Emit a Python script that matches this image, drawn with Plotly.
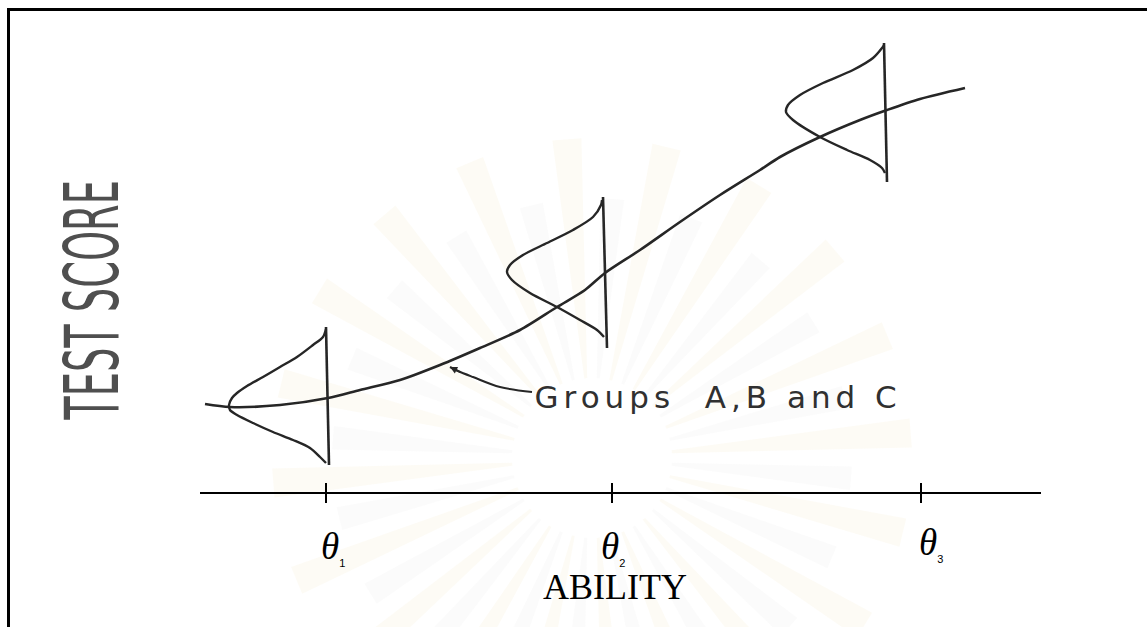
import math
import plotly.graph_objects as go

# Ability / test-score frame (1 unit = 1 px on the page, origin bottom-left)
AXIS_SCORE = 134
AXIS_START, AXIS_END = 200, 1041
THETA_POS = [326, 612, 921]
THETA_NAMES = ["1", "2", "3"]

# Regression of test score on ability
curve_ability = [205, 230, 280, 328, 360, 400, 440, 480, 520, 557, 585, 605,
                 640, 680, 720, 760, 780, 820, 860, 887, 920, 965]
curve_score = [223, 220, 222, 229, 237, 247, 262, 279, 297, 320, 337, 354,
               377, 405, 432, 457, 470, 490, 507, 517, 528, 539]

# Score distributions (groups A, B, C) at each ability level
dist1_ability = [326, 323, 313, 297, 280, 263, 247, 237, 232, 229, 230, 237, 253, 273, 293, 310, 320, 326]
dist1_score = [298, 290, 282, 270, 260, 250, 241, 234, 229, 222, 217, 212, 204, 195, 187, 179, 170, 164]
dist2_ability = [602, 601, 593, 573, 547, 523, 510, 507, 512, 530, 557, 580, 597, 604]
dist2_score = [427, 422, 410, 397, 384, 372, 362, 355, 347, 334, 320, 307, 297, 290]
dist3_ability = [884, 882, 873, 853, 823, 800, 788, 786, 793, 820, 847, 870, 882, 885]
dist3_score = [582, 579, 569, 557, 544, 532, 522, 515, 507, 490, 477, 467, 459, 454]

# Vertical baselines of the three distributions: (ability top, score top, ability bottom, score bottom)
dist_bases = [(326, 300, 329, 162), (603, 430, 607, 279), (884, 584, 887, 445)]

# Leader line to the curve label
leader_ability = [532, 500, 473, 458, 450]
leader_score = [235, 240, 250, 256, 260]

INK = "#262626"
W, H = 1147, 627

fig = go.Figure()

# faint emblem rays behind the drawing
shapes = []
cx, cy = 592, 169
n_rays = 40
for i in range(n_rays):
    a0 = 2 * math.pi * (i + 0.5) / n_rays
    half = math.radians(2.6)
    r_in = 80
    r_out = 320 if i % 2 == 0 else 260
    pts = [
        (cx + r_in * math.cos(a0 - half * 0.4), cy + r_in * math.sin(a0 - half * 0.4)),
        (cx + r_out * math.cos(a0 - half), cy + r_out * math.sin(a0 - half)),
        (cx + r_out * math.cos(a0 + half), cy + r_out * math.sin(a0 + half)),
        (cx + r_in * math.cos(a0 + half * 0.4), cy + r_in * math.sin(a0 + half * 0.4)),
    ]
    path = "M " + " L ".join(f"{px:.1f},{py:.1f}" for px, py in pts) + " Z"
    fill = "rgba(240,222,160,0.11)" if i % 2 == 0 else "rgba(200,200,200,0.07)"
    shapes.append(dict(type="path", path=path, xref="x", yref="y", fillcolor=fill,
                       line=dict(width=0), layer="below"))

# page frame (top and left rules)
shapes.append(dict(type="line", xref="x", yref="y", x0=8.5, x1=W, y0=H - 9.5, y1=H - 9.5,
                   line=dict(color="black", width=3)))
shapes.append(dict(type="line", xref="x", yref="y", x0=8.5, x1=8.5, y0=0, y1=H - 8,
                   line=dict(color="black", width=3)))

# ability axis and ticks
shapes.append(dict(type="line", xref="x", yref="y", x0=AXIS_START, x1=AXIS_END,
                   y0=AXIS_SCORE, y1=AXIS_SCORE, line=dict(color="black", width=2)))
for t in THETA_POS:
    shapes.append(dict(type="line", xref="x", yref="y", x0=t, x1=t,
                       y0=AXIS_SCORE - 10, y1=AXIS_SCORE + 10, line=dict(color="black", width=2)))

# distribution baselines
for xa, ya, xb, yb in dist_bases:
    fig.add_trace(go.Scatter(x=[xa, xb], y=[ya, yb], mode="lines",
                             line=dict(color=INK, width=2.6), hoverinfo="skip"))

for xs, ys in [(dist1_ability, dist1_score), (dist2_ability, dist2_score), (dist3_ability, dist3_score)]:
    fig.add_trace(go.Scatter(x=xs, y=ys, mode="lines",
                             line=dict(color=INK, width=2.4, shape="spline", smoothing=0.8),
                             hoverinfo="skip"))

fig.add_trace(go.Scatter(x=curve_ability, y=curve_score, mode="lines",
                         line=dict(color=INK, width=2.6, shape="spline", smoothing=0.8),
                         hoverinfo="skip"))

fig.add_trace(go.Scatter(x=leader_ability, y=leader_score, mode="lines",
                         line=dict(color=INK, width=2, shape="spline"), hoverinfo="skip"))

annotations = [
    # arrowhead at the end of the leader line
    dict(x=leader_ability[-1], y=leader_score[-1], ax=leader_ability[-2] + 4, ay=leader_score[-2] - 2,
         xref="x", yref="y", axref="x", ayref="y", text="", showarrow=True,
         arrowhead=2, arrowsize=0.8, arrowwidth=1.8, arrowcolor=INK),
    dict(x=718, y=230, xref="x", yref="y", text="Groups  A,B and C", showarrow=False,
         font=dict(family="DejaVu Sans", size=31, color="#303030")),
    dict(x=92, y=327, xref="x", yref="y", text="TEST SCORE", textangle=-90, showarrow=False,
         font=dict(family="DejaVu Sans", size=74, color="#4f4f4f")),
    dict(x=614.5, y=40, xref="x", yref="y", text="ABILITY", showarrow=False,
         font=dict(family="Liberation Serif", size=36, color="black")),
]

# θ labels under the ticks, each with a small upright index
theta_left = [319, 599, 917]
theta_score = [80, 80, 84]
for tx, ty, name in zip(theta_left, theta_score, THETA_NAMES):
    label = ("<i>θ</i><sub><span style='font-size:11px;font-family:Liberation Sans'>"
             + name + "</span></sub>")
    annotations.append(dict(x=tx, y=ty, xref="x", yref="y", text=label, showarrow=False,
                            xanchor="left",
                            font=dict(family="Liberation Serif", size=37, color="black")))

fig.update_layout(
    width=W, height=H,
    margin=dict(l=0, r=0, t=0, b=0),
    paper_bgcolor="white", plot_bgcolor="white",
    showlegend=False,
    xaxis=dict(range=[0, W], visible=False, fixedrange=True),
    yaxis=dict(range=[0, H], visible=False, fixedrange=True),
    shapes=shapes,
    annotations=annotations,
)

# Condensed vertical title and letter-spaced curve label
post = """
var gd = document.getElementById('{plot_id}');
gd.querySelectorAll('text.annotation-text').forEach(function(t){
  var s = t.textContent;
  if (s.indexOf('Groups') === 0) {
    var w = t.getBBox().width;
    t.style.letterSpacing = ((367 - w) / 17).toFixed(2) + 'px';
  }
  if (s === 'TEST SCORE') {
    var b = t.getBBox();
    var k = 240 / b.width;
    var cx = b.x + b.width / 2, cy = b.y + b.height / 2;
    t.setAttribute('transform', 'translate(' + cx + ',' + cy + ') scale(' + k.toFixed(3) + ',1) translate(' + (-cx) + ',' + (-cy) + ')');
  }
});
"""

fig.write_html("out.html", config={"displayModeBar": False}, post_script=post)
